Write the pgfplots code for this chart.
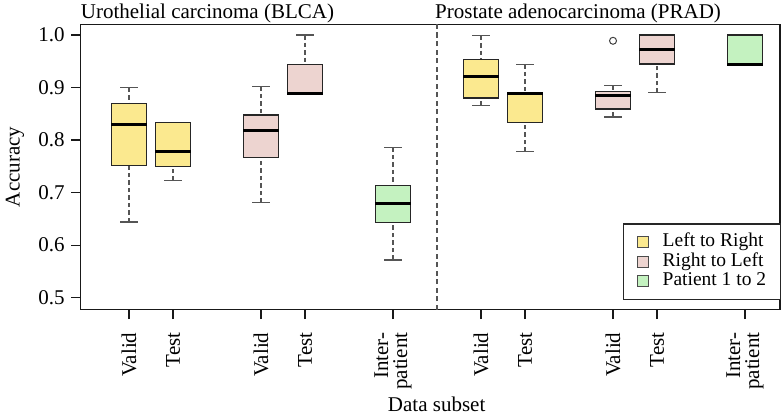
\documentclass[border=0pt]{standalone}
\usepackage{fontspec}
\setmainfont{Liberation Serif}
\usepackage{pgfplots}
\pgfplotsset{compat=1.18}
\usepgfplotslibrary{statistics}

\definecolor{cLR}{HTML}{FBE98F}
\definecolor{cRL}{HTML}{EDD4D0}
\definecolor{cPT}{HTML}{C4F2C0}
\definecolor{wcol}{HTML}{555555}

\pgfplotsset{
  rbox/.style={
    forget plot, solid, draw=black!85, line width=1.3pt,
    boxplot/draw direction=y,
    boxplot/box extend=0.8,
    boxplot/whisker extend=0.4,
    boxplot/every median/.style={line width=3.5pt, black},
    boxplot/draw/lower whisker/.code={%
      \draw[wcol, line width=1.2pt, dash pattern=on 4.5pt off 3pt]
        (boxplot box cs:\pgfplotsboxplotvalue{lower whisker},0.5) --
        (boxplot box cs:\pgfplotsboxplotvalue{lower quartile},0.5);
      \draw[wcol, line width=1.3pt, solid]
        (boxplot whisker cs:\pgfplotsboxplotvalue{lower whisker},0) --
        (boxplot whisker cs:\pgfplotsboxplotvalue{lower whisker},1);
    },
    boxplot/draw/upper whisker/.code={%
      \draw[wcol, line width=1.2pt, dash pattern=on 4.5pt off 3pt]
        (boxplot box cs:\pgfplotsboxplotvalue{upper whisker},0.5) --
        (boxplot box cs:\pgfplotsboxplotvalue{upper quartile},0.5);
      \draw[wcol, line width=1.3pt, solid]
        (boxplot whisker cs:\pgfplotsboxplotvalue{upper whisker},0) --
        (boxplot whisker cs:\pgfplotsboxplotvalue{upper whisker},1);
    },
    mark=o, mark size=3.5pt, mark options={draw=black!75, line width=1pt, fill=none, solid},
  },
  lr/.style={rbox, boxplot/every box/.style={fill=cLR}},
  rl/.style={rbox, boxplot/every box/.style={fill=cRL}},
  pt/.style={rbox, boxplot/every box/.style={fill=cPT}},
}

\begin{document}
\begin{tikzpicture}
\begin{axis}[
  at={(0,0)}, anchor=south west, scale only axis, clip=false,
  width=699.3pt, height=285.2pt,
  xmin=-0.098, xmax=15.795, ymin=0.4775, ymax=1.0204,
  axis line style={black!90, line width=1.3pt},
  tick style={black!90, line width=1.3pt},
  tick align=outside, major tick length=9.5pt,
  xtick pos=bottom, ytick pos=left,
  xtick={1,2,4,5,7,9,10,12,13,15},
  xticklabels={Valid,Test,Valid,Test,{Inter-\\patient},Valid,Test,Valid,Test,{Inter-\\patient}},
  xticklabel style={rotate=90, anchor=east, align=right, font=\fontsize{21}{19}\selectfont},
  xticklabel shift=10pt,
  ytick={0.5,0.6,0.7,0.8,0.9,1.0},
  yticklabels={0.5,0.6,0.7,0.8,0.9,1.0},
  yticklabel style={font=\fontsize{21}{25}\selectfont},
  yticklabel shift=3pt,
  xlabel={Data subset},
  xlabel style={at={(axis description cs:0.509,-0.356)}, anchor=base, font=\fontsize{21}{25}\selectfont},
  ylabel={Accuracy},
  ylabel style={at={(axis description cs:-0.094,0.5)}, anchor=center, font=\fontsize{21}{25}\selectfont},
  legend image code/.code={\draw[#1] (0pt,-5.5pt) rectangle (11pt,5.5pt); \path (24pt,0pt);},
  legend cell align=left,
  legend style={at={(axis description cs:1,0.0333)}, anchor=south east, xshift=1pt,
    draw=black!85, line width=1.2pt, fill=white,
    font=\fontsize{19.5}{22}\selectfont, inner xsep=14pt, inner ysep=8.5pt, row sep=0pt,
    nodes={inner sep=0.25pt, text height=14pt, text depth=5pt}},
]
\addlegendimage{fill=cLR, draw=black!70, line width=1pt}
\addlegendentry{Left to Right}
\addlegendimage{fill=cRL, draw=black!70, line width=1pt}
\addlegendentry{Right to Left}
\addlegendimage{fill=cPT, draw=black!70, line width=1pt}
\addlegendentry{Patient 1 to 2}

% separator between the two cancer types
\addplot[forget plot, wcol, line width=1.2pt, dash pattern=on 5pt off 3.5pt] coordinates {(8,0.4775) (8,1.0204)};

% Urothelial carcinoma (BLCA)
\addplot[lr, boxplot prepared={draw position=1, lower whisker=0.644, lower quartile=0.752, median=0.830, upper quartile=0.870, upper whisker=0.900}] coordinates {};
\addplot[lr, boxplot prepared={draw position=2, lower whisker=0.723, lower quartile=0.750, median=0.778, upper quartile=0.833, upper whisker=0.834}] coordinates {};
\addplot[rl, boxplot prepared={draw position=4, lower whisker=0.681, lower quartile=0.767, median=0.818, upper quartile=0.848, upper whisker=0.902}] coordinates {};
\addplot[rl, boxplot prepared={draw position=5, lower whisker=0.889, lower quartile=0.889, median=0.889, upper quartile=0.944, upper whisker=1.000}] coordinates {};
\addplot[pt, boxplot prepared={draw position=7, lower whisker=0.572, lower quartile=0.643, median=0.679, upper quartile=0.714, upper whisker=0.786}] coordinates {};

% Prostate adenocarcinoma (PRAD)
\addplot[lr, boxplot prepared={draw position=9, lower whisker=0.866, lower quartile=0.880, median=0.921, upper quartile=0.954, upper whisker=0.999}] coordinates {};
\addplot[lr, boxplot prepared={draw position=10, lower whisker=0.778, lower quartile=0.834, median=0.889, upper quartile=0.890, upper whisker=0.944}] coordinates {};
\addplot[rl, boxplot prepared={draw position=12, lower whisker=0.844, lower quartile=0.859, median=0.885, upper quartile=0.893, upper whisker=0.904}] coordinates {(0,0.989)};
\addplot[rl, boxplot prepared={draw position=13, lower whisker=0.890, lower quartile=0.945, median=0.972, upper quartile=1.000, upper whisker=1.000}] coordinates {};
\addplot[pt, boxplot prepared={draw position=15, lower whisker=0.944, lower quartile=0.944, median=0.944, upper quartile=1.000, upper whisker=1.000}] coordinates {};

\node[anchor=base west, inner sep=0pt, yshift=6pt, font=\fontsize{21}{25}\selectfont] at (axis description cs:0,1) {Urothelial carcinoma (BLCA)};
\node[anchor=base west, inner sep=0pt, yshift=6pt, font=\fontsize{21}{25}\selectfont] at (axis description cs:0.5066,1) {Prostate adenocarcinoma (PRAD)};
\end{axis}
\pgfresetboundingbox
\path (-80.7pt,-108.5pt) rectangle (700.3pt,309.5pt);
\end{tikzpicture}
\end{document}
